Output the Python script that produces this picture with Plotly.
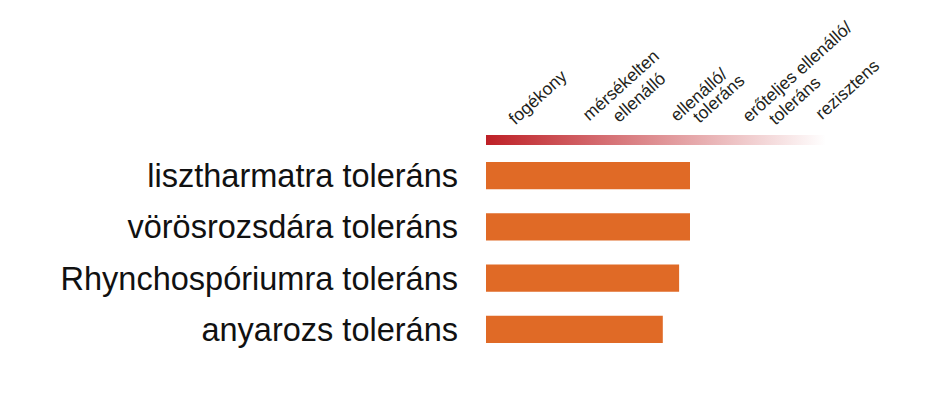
import plotly.graph_objects as go

# ---- data ----
categories = ["lisztharmatra toleráns", "vörösrozsdára toleráns",
              "Rhynchospóriumra toleráns", "anyarozs toleráns"]
values = [3.0, 3.0, 2.84, 2.60]
scale_min, scale_max = 0, 5
scale_labels = [["fogékony"], ["mérsékelten", "ellenálló"], ["ellenálló/", "toleráns"],
                ["erőteljes ellenálló/", "toleráns"], ["rezisztens"]]

# ---- layout constants (screen pixels; page body adds an 8px offset) ----
OFF = 8
W, H = 939 - OFF, 396 - OFF
PLOT_LEFT, PLOT_RIGHT, PLOT_TOP, PLOT_BOTTOM = 486, 826, 20, 355   # screen px
L = PLOT_LEFT - OFF
R = (W + OFF) - PLOT_RIGHT
T = PLOT_TOP - OFF
B = (H + OFF) - PLOT_BOTTOM
plot_w = PLOT_RIGHT - PLOT_LEFT
plot_h = PLOT_BOTTOM - PLOT_TOP
BAR_COLOR = "#E06A26"
GRAD_START = "#BE2026"
ANGLE = -42
HFONT = 17.5

def px_to_paper(px, py):
    return (px - PLOT_LEFT) / plot_w, (PLOT_BOTTOM - py) / plot_h

fig = go.Figure()

fig.add_trace(go.Bar(
    y=categories, x=values, orientation="h",
    marker=dict(color=BAR_COLOR, line=dict(width=0)),
    hoverinfo="skip", showlegend=False,
))

# gradient strip for the scale
fig.add_trace(go.Scatter(
    x=[scale_min, scale_max, scale_max, scale_min, scale_min],
    y=[0, 0, 1, 1, 0],
    mode="lines", fill="toself",
    fillgradient=dict(type="horizontal",
                      colorscale=[[0, GRAD_START], [1, "#FFFFFF"]]),
    line=dict(width=0), yaxis="y2",
    hoverinfo="skip", showlegend=False,
))

# header label starts (baseline start points, screen pixels)
label_starts = [[(515, 127)], [(589, 123), (619, 125)], [(676, 124), (699, 125)],
                [(748, 125), (775, 127)], [(822, 122)]]

annotations = []
for lines, starts in zip(scale_labels, label_starts):
    for text, (sx, sy) in zip(lines, starts):
        ax, ay = px_to_paper(sx - 13, sy + 4)
        annotations.append(dict(
            text=text, x=ax, y=ay, xref="paper", yref="paper",
            xanchor="left", yanchor="bottom", textangle=ANGLE,
            showarrow=False,
            font=dict(family="Liberation Sans, Arial, sans-serif", size=HFONT, color="#231F20"),
        ))

g0 = px_to_paper(0, 145)[1]
g1 = px_to_paper(0, 135)[1]
bar_top = px_to_paper(0, 150)[1]

fig.update_layout(
    width=W, height=H,
    margin=dict(l=L, r=R, t=T, b=B, pad=0),
    paper_bgcolor="white", plot_bgcolor="white",
    bargap=0.47,
    xaxis=dict(range=[scale_min, scale_max], visible=False, fixedrange=True),
    yaxis=dict(domain=[0, bar_top], autorange="reversed", showgrid=False,
               zeroline=False, showline=False, ticks="", ticklabelstandoff=27,
               tickfont=dict(family="Liberation Sans, Arial, sans-serif", size=32.5, color="#111111")),
    yaxis2=dict(domain=[g0, g1], range=[0, 1], visible=False, anchor="x"),
    annotations=annotations,
)

fig.write_html("out.html")
